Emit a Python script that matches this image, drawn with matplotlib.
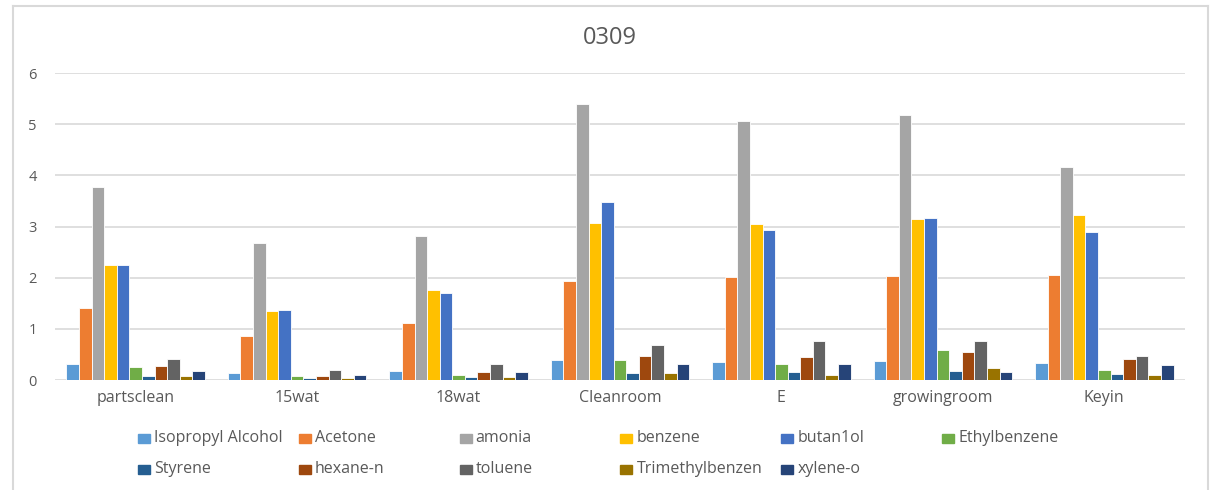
import numpy as np
import matplotlib.pyplot as plt
from matplotlib.patches import Rectangle

plt.rcParams['font.family'] = ['Open Sans', 'DejaVu Sans']

sites = ['partsclean', '15wat', '18wat', 'Cleanroom', 'E', 'growingroom', 'Keyin']
compounds = ['Isopropyl Alcohol', 'Acetone', 'amonia', 'benzene', 'butan1ol', 'Ethylbenzene',
             'Styrene', 'hexane-n', 'toluene', 'Trimethylbenzen', 'xylene-o']
colors = ['#5B9BD5', '#ED7D31', '#A5A5A5', '#FFC000', '#4472C4', '#70AD47',
          '#255E91', '#9E480E', '#636363', '#997300', '#264478']

# one list per compound, ordered like sites
isopropyl = [0.31, 0.14, 0.17, 0.40, 0.35, 0.37, 0.33]
acetone = [1.41, 0.86, 1.11, 1.94, 2.02, 2.03, 2.05]
amonia = [3.77, 2.67, 2.82, 5.40, 5.07, 5.17, 4.17]
benzene = [2.24, 1.35, 1.76, 3.07, 3.05, 3.14, 3.23]
butan1ol = [2.24, 1.37, 1.71, 3.47, 2.94, 3.16, 2.90]
ethylbenzene = [0.25, 0.085, 0.10, 0.40, 0.32, 0.58, 0.20]
styrene = [0.07, 0.03, 0.05, 0.14, 0.15, 0.17, 0.12]
hexane = [0.27, 0.085, 0.15, 0.46, 0.44, 0.55, 0.42]
toluene = [0.42, 0.19, 0.31, 0.68, 0.76, 0.76, 0.46]
trimethyl = [0.08, 0.04, 0.05, 0.14, 0.10, 0.23, 0.10]
xylene = [0.17, 0.10, 0.15, 0.32, 0.31, 0.15, 0.29]
series = [isopropyl, acetone, amonia, benzene, butan1ol, ethylbenzene,
          styrene, hexane, toluene, trimethyl, xylene]

W, H = 1210, 490
fig = plt.figure(figsize=(W / 100, H / 100), dpi=100)
txt = '#595959'
grid = '#D9D9D9'

# chart frame (no bottom edge)
fig.add_artist(plt.Line2D([13 / W, 13 / W], [0, 1 - 6 / H], color=grid, lw=1.5))
fig.add_artist(plt.Line2D([1208 / W, 1208 / W], [0, 1 - 6 / H], color=grid, lw=1.5))
fig.add_artist(plt.Line2D([13 / W, 1208 / W], [1 - 6 / H, 1 - 6 / H], color=grid, lw=1.5))

ax = fig.add_axes([55 / W, 1 - 380 / H, 1130 / W, 307 / H])
x = np.arange(len(sites))
bw = 0.078
n = len(series)
for i, vals in enumerate(series):
    ax.bar(x + (i - (n - 1) / 2) * bw, vals, bw, color=colors[i],
           edgecolor='white', linewidth=0.6, zorder=3)

ax.set_xlim(-0.5, len(sites) - 0.5)
ax.set_ylim(0, 6)
ax.set_yticks(range(7))
ax.yaxis.grid(True, color=grid, lw=1.2)
ax.set_axisbelow(True)
for s in ax.spines.values():
    s.set_visible(False)
ax.tick_params(length=0, colors=txt)
ax.tick_params(axis='y', pad=13, labelsize=10.5)
ax.tick_params(axis='x', pad=7, labelsize=11.5)
ax.set_xticks(x)
ax.set_xticklabels(sites)

fig.text(610 / W, 1 - 38 / H, '0309', ha='center', va='center', fontsize=17, color=txt)

# legend, two rows of fixed-width columns
col0, colw = 138, 160.8
rows = [438, 469]
for i, name in enumerate(compounds):
    r, c = divmod(i, 6)
    lx = col0 + c * colw
    ly = rows[r]
    fig.add_artist(Rectangle((lx / W, 1 - (ly + 4.5) / H), 12 / W, 9 / H,
                             transform=fig.transFigure, color=colors[i]))
    fig.text((lx + 16) / W, 1 - ly / H, name, ha='left', va='center',
             fontsize=11.5, color=txt)

fig.savefig('out.png', dpi=100)
